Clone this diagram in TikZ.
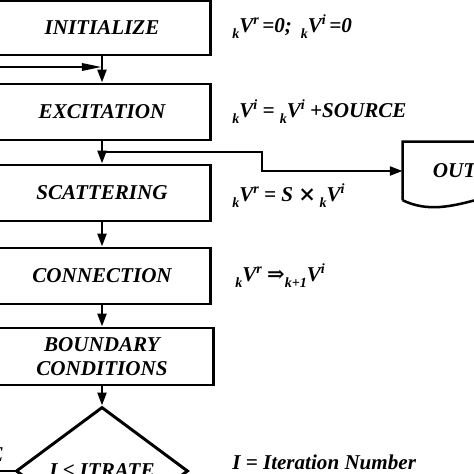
\documentclass[tikz,border=0pt]{standalone}
\usepackage{fontspec}
\setmainfont{Liberation Serif}
\newfontfamily\symfont{DejaVu Serif}
\usepackage{tikz}
\usetikzlibrary{positioning,arrows.meta,shapes.geometric,calc}
\newcommand{\tfont}{\fontsize{15}{17}\selectfont\bfseries\itshape}
\newcommand{\kV}[2][k]{\raisebox{-0.55ex}{\fontsize{10}{10}\selectfont #1}V\raisebox{0.85ex}{\fontsize{10}{10}\selectfont #2}}
\tikzset{
  blk/.style  = {draw, line width=2.1pt, minimum width=5.4cm, minimum height=1.4cm,
                 align=center, font=\tfont, inner sep=2pt},
  dec/.style  = {draw, diamond, line width=2.1pt, inner sep=0pt, minimum width=4.3cm,
                 minimum height=3.2cm, font=\tfont},
  eqn/.style  = {anchor=base west, inner sep=0pt, font=\tfont},
  ar/.style   = {-{Triangle[length=3.2mm,width=2.2mm]}, line width=1.8pt},
  arl/.style  = {-{Triangle[length=5mm,width=1.8mm]}, line width=1.8pt},
}
\begin{document}
\begin{tikzpicture}[x=0.025cm, y=0.025cm]
  \useasboundingbox (0,0) rectangle (474,474);
  \clip (0,0) rectangle (474,474);

  \node[blk, minimum height=1.35cm] (init) at (102,446) {INITIALIZE};
  \node[blk] (exc)  at (102,362) {EXCITATION};
  \node[blk] (scat) at (102,281) {SCATTERING};
  \node[blk] (conn) at (102,198) {CONNECTION};
  \node[blk, minimum width=5.55cm, minimum height=1.425cm] (bnd) at (102,117.5)
       {BOUNDARY\\ CONDITIONS};
  \node[dec] (dia) at (102,3) {I ≤ ITRATE};
  \node[minimum width=3.6cm, minimum height=1.45cm, font=\tfont] (out) at (475,303) {OUTPUT};
  \draw[line width=1.8pt] (out.south west) -- (out.north west) -- (out.north east) -- (out.south east)
       .. controls +(-50,24) and +(50,-24) .. (out.south west);

  \node[eqn] (eqi) at (232,441) {\kV{r}\,=0;\, \kV{i}\,=0};
  \node[eqn] (eqe) at (232,356) {\kV{i} = \kV{i} +SOURCE};
  \node[eqn] (eqs) at (232,272) {\kV{r} = S {\symfont ×}\,\kV{i}};
  \node[eqn] (eqc) at (235,192) {\kV{r} {\symfont ⇒}\kV[k+1]{i}};
  \node[eqn] (itn) at (232,5) {I = Iteration Number};

  \coordinate (jn)   at (102,322);
  \coordinate (bend) at (262,303);
  \coordinate (mg)   at (102,407);
  \coordinate (lp)   at (-40,3);

  \draw[ar] (init) -- (exc);
  \draw[ar] (exc) -- (scat);
  \draw[ar] (jn) -| (bend) -- (out.west);
  \draw[ar] (scat) -- (conn);
  \draw[ar] (conn) -- (bnd);
  \draw[ar] (bnd) -- (dia);
  \draw[arl] (dia.west) -- (lp) |- (mg);
  \node[eqn, anchor=base east] (tru) at (4,13) {TRUE};
\end{tikzpicture}
\end{document}
